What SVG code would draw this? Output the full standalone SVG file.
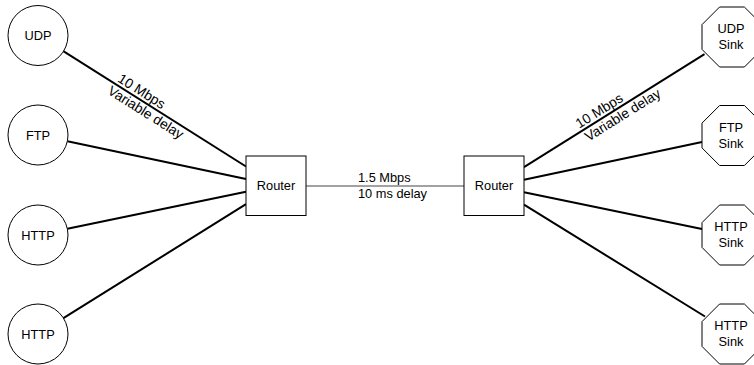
<svg xmlns="http://www.w3.org/2000/svg" width="754" height="365" viewBox="0 0 754 365">
<style>
text{font-family:"Liberation Sans",Arial,Helvetica,sans-serif;font-size:12.8px;fill:#000}
.c{text-anchor:middle}
.r{font-size:13.8px}
.node{fill:#fff;stroke:#000;stroke-width:1}
.link{stroke:#000;stroke-width:2;fill:none}
.thin{stroke:#444;stroke-width:1;fill:none}
</style>
<defs>
<polygon id="oct" points="-12.4,-30 12.4,-30 30,-12.4 30,12.4 12.4,30 -12.4,30 -30,12.4 -30,-12.4"/>
</defs>
<g id="connectors">
<line class="link" x1="63.3" y1="51.2" x2="246" y2="166.5"/>
<line class="link" x1="67.4" y1="141.2" x2="246" y2="179.1"/>
<line class="link" x1="67.4" y1="228.8" x2="246" y2="191.7"/>
<line class="link" x1="63.4" y1="318.1" x2="246" y2="204.2"/>
<line class="thin" x1="306" y1="186" x2="464" y2="186"/>
<line class="link" x1="524" y1="167.2" x2="704.5" y2="54.2"/>
<line class="link" x1="524" y1="192.2" x2="702" y2="229"/>
<line class="link" x1="524" y1="179.7" x2="702" y2="142"/>
<line class="link" x1="524" y1="204.7" x2="705" y2="316.5"/>
<g transform="translate(116,84.3) rotate(32.3)">
<text class="r" x="-1" y="-3.2">10 Mbps</text>
<text class="r" x="-3" y="12.5">Variable delay</text>
</g>
<g transform="translate(581,131.7) rotate(-32)">
<text class="r" x="0" y="-3.5">10 Mbps</text>
<text class="r" x="1" y="12.5">Variable delay</text>
</g>
<text x="358" y="182">1.5 Mbps</text>
<text x="358" y="198">10 ms delay</text>
</g>
<g id="udp"><circle class="node" cx="38" cy="35.5" r="30"/><text class="c" x="38" y="40">UDP</text></g>
<g id="ftp"><circle class="node" cx="38" cy="135" r="30"/><text class="c" x="38" y="139.5">FTP</text></g>
<g id="http1"><circle class="node" cx="38" cy="235" r="30"/><text class="c" x="38" y="239.5">HTTP</text></g>
<g id="http2"><circle class="node" cx="38" cy="334" r="30"/><text class="c" x="38" y="338.5">HTTP</text></g>
<g id="router1"><rect class="node" x="246" y="156" width="60" height="59.5"/><text class="c" x="276" y="190">Router</text></g>
<g id="router2"><rect class="node" x="464" y="156" width="60" height="59.5"/><text class="c" x="494" y="190">Router</text></g>
<g id="udpsink"><use href="#oct" class="node" x="732" y="37"/><text class="c" x="731" y="33">UDP</text><text class="c" x="731" y="49">Sink</text></g>
<g id="ftpsink"><use href="#oct" class="node" x="732" y="135.5"/><text class="c" x="731" y="131.5">FTP</text><text class="c" x="731" y="147.5">Sink</text></g>
<g id="httpsink1"><use href="#oct" class="node" x="732" y="235"/><text class="c" x="731" y="231">HTTP</text><text class="c" x="731" y="247">Sink</text></g>
<g id="httpsink2"><use href="#oct" class="node" x="732" y="334"/><text class="c" x="731" y="330">HTTP</text><text class="c" x="731" y="346">Sink</text></g>
</svg>
